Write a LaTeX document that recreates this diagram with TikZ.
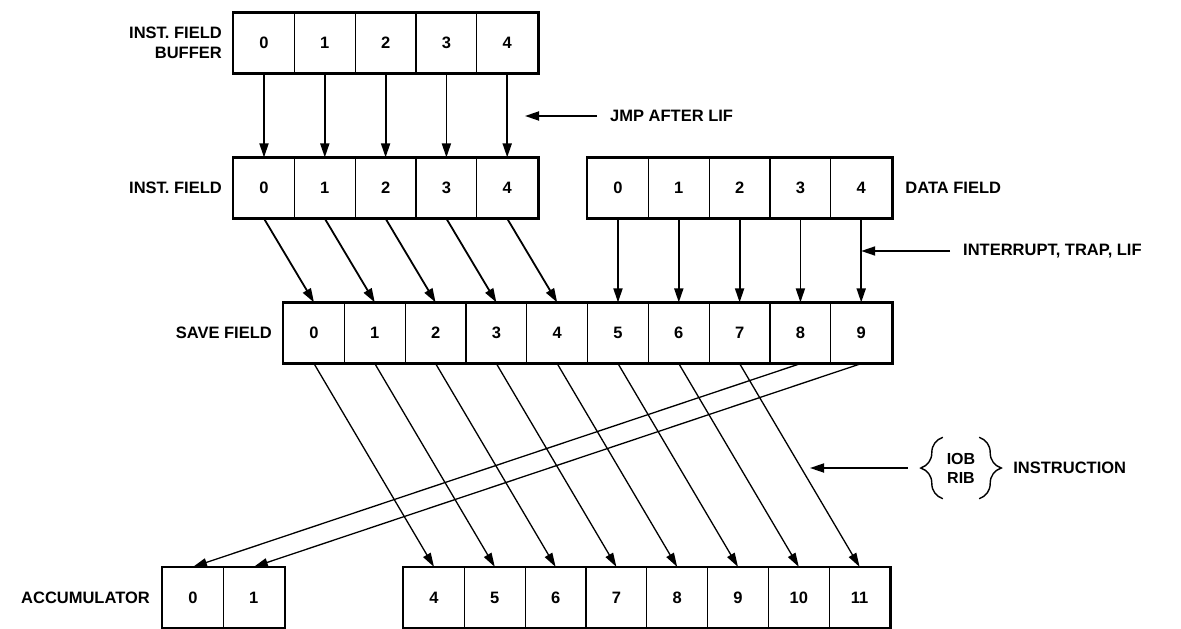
\documentclass[tikz,border=0pt]{standalone}
\usepackage{fontspec}
\setmainfont{Liberation Sans}
\usetikzlibrary{arrows.meta,positioning,decorations.pathreplacing}

\begin{document}
\begin{tikzpicture}[
  x=1pt,y=-1pt,
  cell/.style={draw,line width=1.2pt,minimum width=60.8pt,minimum height=60pt,inner sep=0pt,font=\bfseries\fontsize{16.5}{20}\selectfont},
  frame/.style={line width=2.6pt},
  lbl/.style={inner sep=0pt,font=\bfseries\fontsize{16.5}{20}\selectfont},
  arr/.style={-{Triangle[length=14pt,width=9pt]},line width=1.8pt},
  darr/.style={-{Triangle[length=14pt,width=8.5pt]},line width=1.3pt},
  brc/.style={decorate,decoration={brace,amplitude=22pt},line width=1.4pt}
]
  \useasboundingbox (0,0) rectangle (1181,629);

  % registers
  \foreach \i in {0,...,4} {
    \node[cell,anchor=west] (buf\i) at (233+60.8*\i,43) {\i};
    \node[cell,anchor=west] (inf\i) at (233+60.8*\i,188) {\i};
  }
  \foreach \i in {0,...,9}
    \node[cell,anchor=west] (sf\i) at (283+60.8*\i,333) {\i};
  \foreach \i [evaluate=\i as \j using int(\i+5)] in {0,...,4}
    \node[cell] (df\i) at (sf\j |- 0,188) {\i};
  \foreach \i in {0,1}
    \node[cell,anchor=west] (acc\i) at (162+60.8*\i,597.5) {\i};
  \foreach \i in {4,...,11}
    \node[cell,anchor=west] (acc\i) at (403+60.8*\i-243.2,597.5) {\i};

  \draw[frame] (buf0.north west) rectangle (buf4.south east);
  \draw[frame] (inf0.north west) rectangle (inf4.south east);
  \draw[frame] (df0.north west) rectangle (df4.south east);
  \draw[frame] (sf0.north west) rectangle (sf9.south east);
  \draw[frame] (acc0.north west) rectangle (acc1.south east);
  \draw[frame] (acc4.north west) rectangle (acc11.south east);

  \node[lbl,left=11pt of buf0,align=right] (bufl) {INST. FIELD\\BUFFER};
  \node[lbl,left=11pt of inf0] (infl) {INST. FIELD};
  \node[lbl,right=13pt of df4] (dfl) {DATA FIELD};
  \node[lbl,left=11pt of sf0] (sfl) {SAVE FIELD};
  \node[lbl,left=12pt of acc0] (accl) {ACCUMULATOR};

  % transfers
  \foreach \i in {0,...,4} {
    \draw[arr] (buf\i.south) -- (inf\i.north);
    \draw[arr] (inf\i.south) -- (sf\i.north);
  }
  \foreach \i [evaluate=\i as \j using int(\i+5)] in {0,...,4}
    \draw[arr] (df\i.south) -- (sf\j.north);
  \foreach \i [evaluate=\i as \j using int(\i+4)] in {0,...,7}
    \draw[darr] (sf\i.south) -- (acc\j.north);
  \draw[darr] (sf8.south) -- (acc0.north);
  \draw[darr] (sf9.south) -- (acc1.north);

  % conditions
  \node[lbl,anchor=west] (jmp) at (610,116) {JMP AFTER LIF};
  \coordinate (jmptip) at (525,116);
  \draw[arr] ([xshift=-13pt]jmp.west) -- (jmptip);

  \node[lbl,anchor=west] (intl) at (963,251) {INTERRUPT, TRAP, LIF};
  \coordinate (inttip) at (df4.south |- intl.west);
  \draw[arr] ([xshift=-13pt]intl.west) -- (inttip);

  \node[inner sep=0pt,minimum width=36pt,minimum height=61pt,align=center,
    font=\bfseries\fontsize{16}{19}\selectfont] (iob) at (961,468) {IOB\\RIB};
  \draw[brc] (iob.south west) -- (iob.north west);
  \draw[brc] (iob.north east) -- (iob.south east);
  \node[lbl,right=34pt of iob] (instr) {INSTRUCTION};
  \coordinate (iobtip) at (810,468);
  \draw[arr] ([xshift=-35pt]iob.west) -- (iobtip);
\end{tikzpicture}
\end{document}
